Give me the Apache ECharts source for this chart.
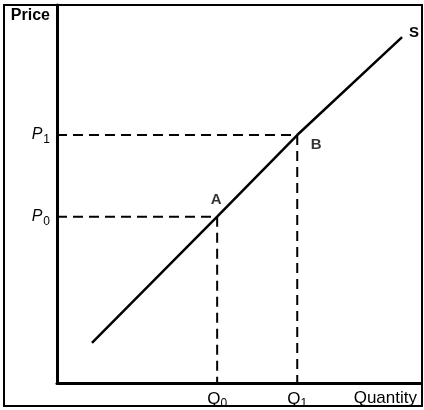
<!DOCTYPE html>
<html>
<head>
<meta charset="utf-8">
<script src="https://cdn.jsdelivr.net/npm/echarts@6/dist/echarts.min.js"></script>
<style>
html,body{margin:0;padding:0;background:#fff;}
#c{width:424px;height:410px;}
</style>
</head>
<body>
<div id="c"></div>
<script>
// Supply curve S (quantity, price) in abstract units 0..100
const supplyQ = [9.6, 44, 66, 94.8];
const supplyP = [10.6, 44, 65.6, 91.5];
// Marked points
const pointNames = ['A', 'B'];
const pointQ = [44, 66];
const pointP = [44, 65.6];
// Tick labels
const xTickValues = [44, 66];
const xTickSubs = ['0', '1'];
const yTickValues = [44, 65.6];
const yTickSubs = ['0', '1'];
const curveName = 'S';

const chart = echarts.init(document.getElementById('c'), null, {renderer: 'canvas'});
const FONT = 'Liberation Sans';

const supplyData = supplyQ.map((q, i) => [q, supplyP[i]]);
const dashStyle = {color: '#000', width: 2, type: [10, 6]};
const dashH = pointQ.map((q, i) => ({
  type: 'line', silent: true, symbol: 'none', animation: false,
  lineStyle: dashStyle,
  data: [[0, pointP[i]], [q, pointP[i]]]
}));
const dashV = pointQ.map((q, i) => ({
  type: 'line', silent: true, symbol: 'none', animation: false,
  lineStyle: dashStyle,
  data: [[q, pointP[i]], [q, 0]]
}));
const labelOffsets = [[-1, -17], [19, 10]];

function subLabel(letter, subs, values) {
  return function (v) {
    const idx = values.findIndex(x => Math.abs(x - v) < 0.01);
    if (idx < 0) return '';
    return '{m|' + letter + '}{s|' + subs[idx] + '}';
  };
}

chart.setOption({
  animation: false,
  grid: {left: 57, right: 3, top: 5, bottom: 27, containLabel: false},
  xAxis: {
    type: 'value', min: 0, max: 100,
    name: 'Quantity', nameLocation: 'end', nameGap: -4,
    nameTextStyle: {color: '#000', fontFamily: FONT, fontSize: 17, align: 'right', verticalAlign: 'top', padding: [7, 0, 0, 0]},
    axisLine: {show: true, lineStyle: {color: '#000', width: 3}},
    axisTick: {show: false},
    splitLine: {show: false},
    axisLabel: {
      customValues: xTickValues,
      margin: 8,
      formatter: subLabel('Q', xTickSubs, xTickValues),
      rich: {
        m: {fontFamily: FONT, fontSize: 17, color: '#000', verticalAlign: 'bottom', padding: [0, 0, 2, 0]},
        s: {fontFamily: FONT, fontSize: 12, color: '#000', verticalAlign: 'bottom'}
      }
    }
  },
  yAxis: {
    type: 'value', min: 0, max: 100,
    name: 'Price', nameLocation: 'end', nameGap: -3,
    nameTextStyle: {color: '#000', fontFamily: FONT, fontSize: 16, fontWeight: 'bold', align: 'right', verticalAlign: 'top', padding: [0, 7, 0, 0]},
    axisLine: {show: true, lineStyle: {color: '#000', width: 3}},
    axisTick: {show: false},
    splitLine: {show: false},
    axisLabel: {
      customValues: yTickValues,
      margin: 7,
      formatter: subLabel('P', yTickSubs, yTickValues),
      rich: {
        m: {fontFamily: FONT, fontSize: 16, fontStyle: 'italic', color: '#000', verticalAlign: 'bottom', padding: [3, 1, 3, 0]},
        s: {fontFamily: FONT, fontSize: 12, color: '#000', verticalAlign: 'bottom'}
      }
    }
  },
  graphic: [{
    type: 'rect', silent: true,
    shape: {x: 4, y: 5, width: 418, height: 401},
    style: {fill: 'none', stroke: '#000', lineWidth: 2}
  }],
  series: [
    {
      type: 'line', name: curveName, symbol: 'none', animation: false,
      lineStyle: {color: '#000', width: 2.5},
      data: supplyData,
      endLabel: {show: true, formatter: curveName, color: '#000', fontFamily: FONT, fontSize: 15, fontWeight: 'bold', offset: [-1, -4]}
    },
    ...dashH, ...dashV,
    {
      type: 'scatter', symbolSize: 1, itemStyle: {color: 'rgba(0,0,0,0)'}, silent: true,
      data: pointQ.map((q, i) => ({
        value: [q, pointP[i]],
        label: {show: true, formatter: pointNames[i], position: 'inside', offset: labelOffsets[i],
          color: '#000', fontFamily: FONT, fontSize: 15, fontWeight: 'bold'}
      }))
    }
  ]
});
</script>
</body>
</html>
